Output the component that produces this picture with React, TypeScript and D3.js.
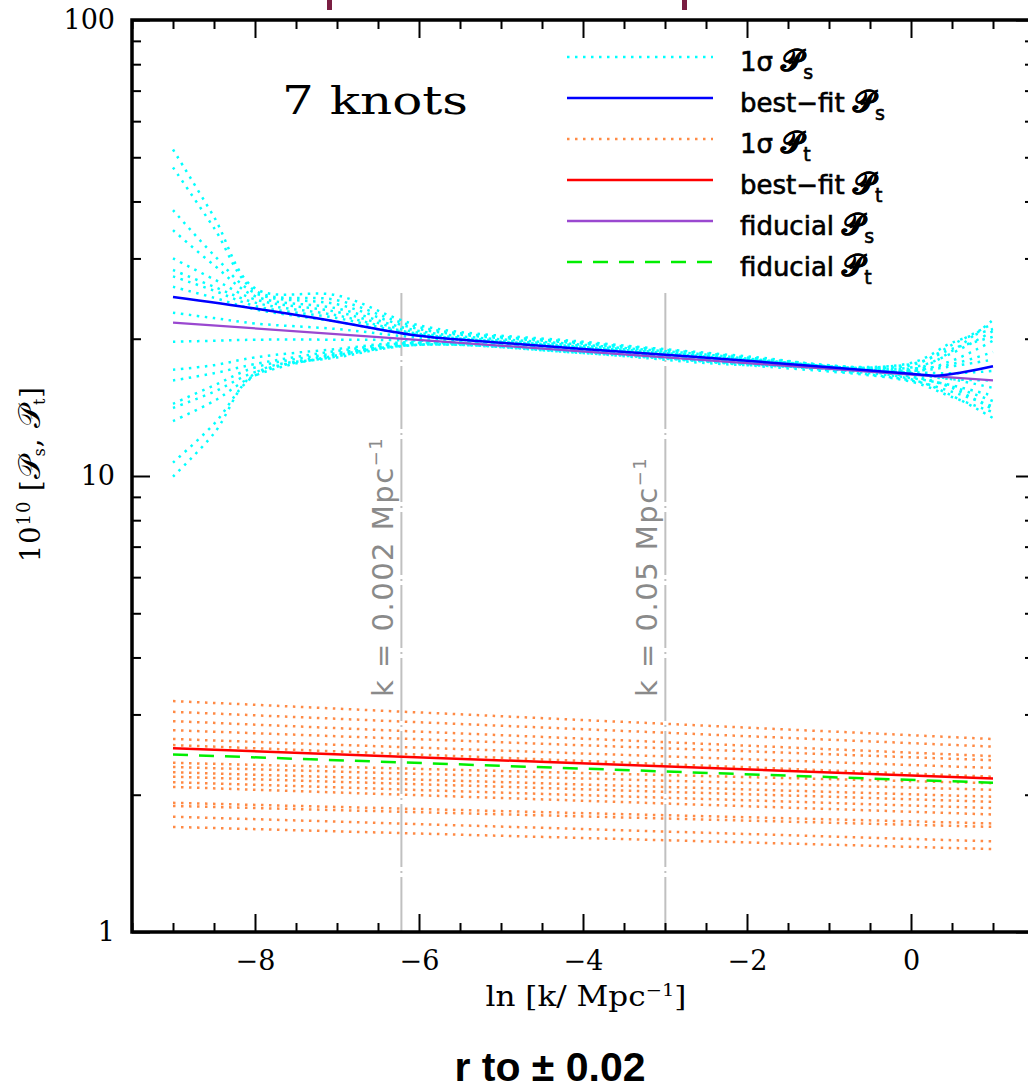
import React, { useEffect, useRef } from 'react';
import * as d3 from 'd3';

const width = 1028;
const height = 1091;
const frame = { left: 132, right: 1034, top: 20, bottom: 932 };

const cyan = '#00ffff';
const blue = '#0000ff';
const orange = '#ff8a45';
const red = '#ff0000';
const purple = '#9a48d0';
const green = '#00ee00';
const grey = '#c0c0c0';

const knotX = [-9, -8.5, -8, -7, -6, -4, -2, 0, 0.5, 1];
const sigmaS = [
  [52.0, 37.0, 25.8, 24.9, 21.4, 19.7, 18.3, 17.1, 18.8, 22.0],
  [47.5, 35.0, 25.5, 24.3, 21.2, 19.6, 18.2, 16.6, 15.6, 14.0],
  [38.3, 30.5, 25.2, 23.8, 21.0, 19.5, 18.1, 17.5, 19.4, 21.6],
  [34.6, 29.0, 24.8, 23.3, 20.8, 19.4, 18.1, 16.3, 15.0, 13.4],
  [30.0, 27.0, 24.4, 22.9, 20.6, 19.3, 18.0, 17.3, 18.6, 20.8],
  [28.3, 26.0, 24.0, 22.5, 20.5, 19.2, 18.0, 16.5, 15.7, 14.6],
  [27.4, 25.5, 23.6, 22.2, 20.4, 19.1, 17.9, 17.0, 17.9, 19.8],
  [26.0, 24.6, 23.2, 21.8, 20.3, 19.1, 17.9, 16.8, 16.3, 15.6],
  [22.8, 22.2, 21.6, 21.0, 20.1, 19.0, 17.8, 17.2, 17.6, 18.7],
  [19.7, 19.8, 19.9, 19.9, 19.8, 18.9, 17.8, 16.4, 15.8, 15.0],
  [17.1, 17.5, 18.2, 19.0, 19.7, 18.9, 17.8, 17.0, 17.4, 18.0],
  [16.2, 16.8, 17.6, 18.8, 19.6, 18.8, 17.7, 16.2, 15.3, 14.2],
  [14.4, 15.8, 17.3, 18.6, 19.5, 18.8, 17.7, 17.6, 19.0, 20.2],
  [14.1, 15.3, 16.9, 18.5, 19.5, 18.7, 17.6, 16.7, 16.3, 16.2],
  [13.2, 14.6, 16.6, 18.4, 19.4, 18.7, 17.6, 16.9, 16.8, 17.0],
  [10.7, 13.0, 16.6, 18.3, 19.4, 18.6, 17.5, 16.1, 14.9, 13.8],
  [9.97, 12.4, 16.8, 18.2, 19.4, 18.6, 17.5, 17.7, 19.6, 21.0],
];

const bestSX = [-9, -8, -7, -6, -5, -4, -2, 0, 0.3, 0.6, 1];
const bestS = [24.7, 23.3, 21.8, 20.3, 19.6, 19.0, 17.9, 16.75, 16.6, 16.85, 17.4];

// power laws: values at the two ends
const endX = [-9, 1];
const fiducialS = [21.7, 16.2];
const bestT = [2.53, 2.17];
const fiducialT = [2.45, 2.125];
const sigmaT = [
  [3.21, 2.65], [3.04, 2.55], [2.90, 2.43], [2.77, 2.38],
  [2.65, 2.29], [2.57, 2.19], [2.35, 2.12], [2.30, 2.05],
  [2.24, 1.98], [2.19, 1.93], [2.13, 1.87], [2.08, 1.81],
  [1.92, 1.73], [1.89, 1.70], [1.79, 1.58], [1.70, 1.52],
];

const xMajor = [-8, -6, -4, -2, 0];
const xMinor = d3.range(-9.5, 1.51, 0.5).filter(v => !xMajor.includes(v));
const yMajor = [1, 10, 100];
const yMinor = [2, 3, 4, 5, 6, 7, 8, 9, 20, 30, 40, 50, 60, 70, 80, 90];

const pivots = [
  { k: 0.002, label: 'k = 0.002 Mpc' },
  { k: 0.05, label: 'k = 0.05 Mpc' },
];

const legendRows = [
  { pre: '1σ ', sub: 's', color: cyan, dash: '2.5,5.5', w: 2.5 },
  { pre: 'best−fit ', sub: 's', color: blue, dash: null, w: 2.5 },
  { pre: '1σ ', sub: 't', color: orange, dash: '2.5,5.5', w: 2.5 },
  { pre: 'best−fit ', sub: 't', color: red, dash: null, w: 2.5 },
  { pre: 'fiducial ', sub: 's', color: purple, dash: null, w: 2.5 },
  { pre: 'fiducial ', sub: 't', color: green, dash: '15,11', w: 2.5 },
];

const serif = "'DejaVu Serif', serif";
const sans = "'DejaVu Sans', sans-serif";

export default function App() {
  const bottomRef = useRef<SVGGElement>(null);
  const bottomMinorRef = useRef<SVGGElement>(null);
  const topRef = useRef<SVGGElement>(null);
  const topMinorRef = useRef<SVGGElement>(null);
  const leftRef = useRef<SVGGElement>(null);
  const leftMinorRef = useRef<SVGGElement>(null);
  const rightRef = useRef<SVGGElement>(null);
  const rightMinorRef = useRef<SVGGElement>(null);

  const x = d3.scaleLinear().domain([-9.5, 1.5]).range([frame.left, frame.right]);
  const y = d3.scaleLog().domain([1, 100]).range([frame.bottom, frame.top]);

  const knotLine = (xs: number[]) =>
    d3.line<number>().x((_, i) => x(xs[i])).y(d => y(d)).curve(d3.curveCatmullRom.alpha(0.5));

  useEffect(() => {
    const style = (sel: any, labels: boolean) => {
      sel.select('.domain').remove();
      sel.selectAll('line').attr('stroke', '#000').attr('stroke-width', 2);
      sel.attr('font-family', serif).attr('font-size', 27);
      if (!labels) sel.selectAll('text').remove();
    };
    const none = () => '';
    style(d3.select(bottomRef.current).call(d3.axisBottom(x).tickValues(xMajor).tickSize(-18).tickPadding(19).tickFormat(d3.format('d')) as any), true);
    style(d3.select(bottomMinorRef.current).call(d3.axisBottom(x).tickValues(xMinor).tickSize(-9).tickFormat(none) as any), false);
    style(d3.select(topRef.current).call(d3.axisTop(x).tickValues(xMajor).tickSize(-18).tickFormat(none) as any), false);
    style(d3.select(topMinorRef.current).call(d3.axisTop(x).tickValues(xMinor).tickSize(-9).tickFormat(none) as any), false);
    style(d3.select(leftRef.current).call(d3.axisLeft(y).tickValues(yMajor).tickSize(-18).tickPadding(17).tickFormat(d => String(d)) as any), true);
    style(d3.select(leftMinorRef.current).call(d3.axisLeft(y).tickValues(yMinor).tickSize(-9).tickFormat(none) as any), false);
    style(d3.select(rightRef.current).call(d3.axisRight(y).tickValues(yMajor).tickSize(-18).tickFormat(none) as any), false);
    style(d3.select(rightMinorRef.current).call(d3.axisRight(y).tickValues(yMinor).tickSize(-9).tickFormat(none) as any), false);
  }, []);

  const dotted = '2.5,5.5';

  return (
    <svg width={width} height={height} style={{ position: 'absolute', left: 0, top: 0, background: '#fff' }}>
      <defs>
        <clipPath id="plotArea">
          <rect x={frame.left} y={frame.top} width={frame.right - frame.left} height={frame.bottom - frame.top} />
        </clipPath>
      </defs>
      <rect width={width} height={height} fill="#fff" />

      {/* bits of a cut-off heading */}
      <rect x={327} y={0} width={5} height={10} fill="#7a1e42" />
      <rect x={682} y={0} width={5} height={10} fill="#7a1e42" />

      <g clipPath="url(#plotArea)">
        {pivots.map(p => (
          <line key={p.k} x1={x(Math.log(p.k))} x2={x(Math.log(p.k))} y1={293} y2={frame.bottom}
            stroke={grey} strokeWidth={2} strokeDasharray="63,4,2,4" />
        ))}
        {sigmaT.map((d, i) => (
          <path key={'t' + i} d={knotLine(endX)(d) || ''} fill="none" stroke={orange} strokeWidth={2.5} strokeDasharray={dotted} />
        ))}
        {sigmaS.map((d, i) => (
          <path key={'s' + i} d={knotLine(knotX)(d) || ''} fill="none" stroke={cyan} strokeWidth={2.5} strokeDasharray={dotted} />
        ))}
        <path d={knotLine(endX)(fiducialS) || ''} fill="none" stroke={purple} strokeWidth={2.2} />
        <path d={knotLine(bestSX)(bestS) || ''} fill="none" stroke={blue} strokeWidth={2.5} />
        <path d={knotLine(endX)(bestT) || ''} fill="none" stroke={red} strokeWidth={2.5} />
        <path d={knotLine(endX)(fiducialT) || ''} fill="none" stroke={green} strokeWidth={2.5} strokeDasharray="15,11" />
      </g>

      {pivots.map(p => (
        <text key={'l' + p.k} transform={`translate(${x(Math.log(p.k)) - 8},697) rotate(-90)`}
          fontFamily={sans} fontSize={29} letterSpacing={1.5} fill="#8a8a8a">
          {p.label}<tspan dy={-11} fontSize={18}>−1</tspan>
        </text>
      ))}

      <text transform="translate(282,114) scale(1.25,1)" fontFamily={serif} fontSize={40}>7 knots</text>

      <g>
        {legendRows.map((r, i) => {
          const ly = 57 + i * 41;
          return (
            <g key={i}>
              <line x1={567} x2={713} y1={ly} y2={ly} stroke={r.color} strokeWidth={r.w}
                strokeDasharray={r.dash || undefined} />
              <text x={740} y={ly + 14} fontFamily={sans} fontSize={26} stroke="#000" strokeWidth={0.6}>
                {r.pre}<tspan fontSize={30} fontWeight="bold">𝒫</tspan>
                <tspan dy={8} fontSize={19}>{r.sub}</tspan>
              </text>
            </g>
          );
        })}
      </g>

      <rect x={frame.left} y={frame.top} width={frame.right - frame.left} height={frame.bottom - frame.top}
        fill="none" stroke="#000" strokeWidth={3.5} />
      <g ref={bottomRef} transform={`translate(0,${frame.bottom})`} />
      <g ref={bottomMinorRef} transform={`translate(0,${frame.bottom})`} />
      <g ref={topRef} transform={`translate(0,${frame.top})`} />
      <g ref={topMinorRef} transform={`translate(0,${frame.top})`} />
      <g ref={leftRef} transform={`translate(${frame.left},0)`} />
      <g ref={leftMinorRef} transform={`translate(${frame.left},0)`} />
      <g ref={rightRef} transform={`translate(${frame.right},0)`} />
      <g ref={rightMinorRef} transform={`translate(${frame.right},0)`} />

      <text transform="translate(586,1006) scale(1.15,1)" textAnchor="middle" fontFamily={serif} fontSize={27}>
        ln [k/ Mpc<tspan dy={-10} fontSize={17}>−1</tspan><tspan dy={10}>]</tspan>
      </text>

      <text transform="translate(40,474) rotate(-90)" textAnchor="middle" fontFamily={serif} fontSize={27} letterSpacing={1}>
        10<tspan dy={-10} fontSize={18}>10</tspan>
        <tspan dy={10}> [</tspan><tspan fontSize={31}>𝒫</tspan><tspan dy={5} fontSize={16}>s</tspan>
        <tspan dy={-5}>, </tspan><tspan fontSize={31}>𝒫</tspan><tspan dy={5} fontSize={16}>t</tspan>
        <tspan dy={-5}>]</tspan>
      </text>

      <text x={550} y={1081} textAnchor="middle" fontFamily="'Liberation Sans', Arial, sans-serif"
        fontWeight="bold" fontSize={41}>r to ± 0.02</text>
    </svg>
  );
}
